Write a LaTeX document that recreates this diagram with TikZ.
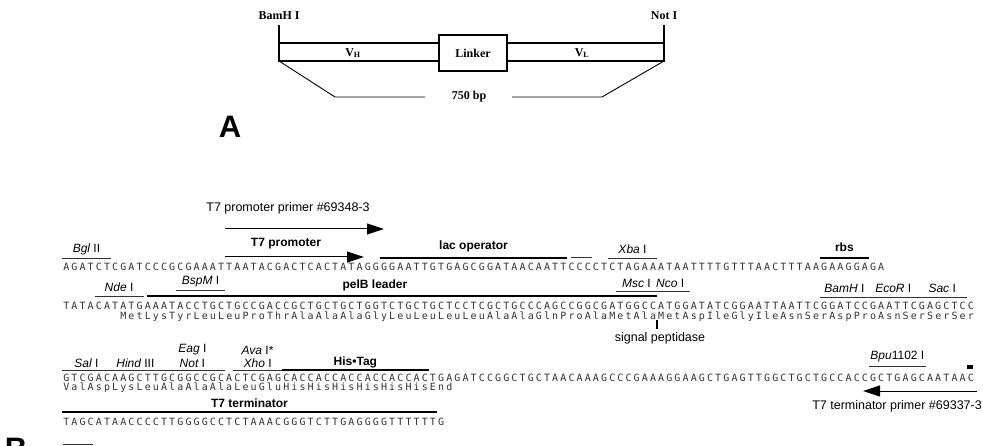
\documentclass[tikz,border=0pt]{standalone}
\usepackage{fontspec}
\setmainfont{Liberation Serif}
\setsansfont{Liberation Sans}
\newfontfamily\seqfont{DejaVu Sans Mono}
\usetikzlibrary{arrows.meta}
\tikzset{
    top label/.style={font=\rmfamily\bfseries\fontsize{12}{12}\selectfont, inner sep=0pt},
    box line/.style={line width=1.4pt},
    thin line/.style={line width=0.9pt},
    linker box/.style={draw, line width=2.4pt, fill=white, minimum width=68pt, minimum height=36pt, font=\rmfamily\bfseries\fontsize{12}{12}\selectfont},
    panel label/.style={font=\sffamily\bfseries\fontsize{31}{31}\selectfont, inner sep=0pt},
    seq/.style={anchor=west, inner sep=0pt, font=\seqfont\fontsize{10}{10}\selectfont, text=black!80},
    site label/.style={font=\sffamily\fontsize{12}{12}\selectfont, inner sep=0pt},
    feature label/.style={font=\sffamily\bfseries\fontsize{12}{12}\selectfont, inner sep=0pt},
    plain label/.style={font=\sffamily\fontsize{12.5}{12.5}\selectfont, inner sep=0pt},
    site line/.style={line width=0.8pt, black!80},
    feature line/.style={line width=2.2pt},
    primer arrow/.style={line width=1pt, -{Triangle[length=17pt, width=11pt]}},
}
\newcommand{\xo}{62}
\newcommand{\cw}{8.15}
% one fixed cell per letter
\newcommand{\seqbox}[1]{\ifx#1\relax\else\makebox[\cw pt]{#1}\expandafter\seqbox\fi}
% name, first base, last base, text, text y, line y
\newcommand{\enzsite}[6]{
    \draw[site line] ({\xo+(#2-1)*\cw},#6) -- ({\xo+#3*\cw},#6);
    \node[site label] (#1) at ({\xo+(#2+#3-1)/2*\cw},#5) {#4};
}
\newcommand{\featbar}[6]{
    \draw[feature line] ({\xo+(#2-1)*\cw},#6) -- ({\xo+#3*\cw},#6);
    \node[feature label] (#1) at ({\xo+(#2+#3-1)/2*\cw},#5) {#4};
}

\begin{document}
\begin{tikzpicture}[x=1pt, y=-1pt]
    \useasboundingbox (0,0) rectangle (983,446);
    % A: the scFv insert
    \coordinate (barNW) at (279,43);
    \coordinate (barSW) at (279,61);
    \coordinate (barNE) at (664,43);
    \coordinate (barSE) at (664,61);
    \node[top label] (bamh) at (279,16) {BamH I};
    \node[top label] (noti) at (664,16) {Not I};
    \draw[box line] (barNW) rectangle (barSE);
    \draw[box line] (barNW) -- ++(0,-18);
    \draw[box line] (barNE) -- ++(0,-18);
    \node[linker box] (linker) at (473,53) {Linker};
    \node[top label] (vh) at (353,53) {V\textsubscript{H}};
    \node[top label] (vl) at (582,53) {V\textsubscript{L}};
    \node[top label] (bp) at (469,97) {750 bp};
    \draw[thin line] (barSW) -- (335,97) -- (425,97);
    \draw[thin line] (barSE) -- (602,97) -- (512,97);
    \node[panel label] (pa) at (230,127) {A};

    % B: cloning region
    \node[plain label] (fwd) at (288,208) {T7 promoter primer \#69348-3};
    \coordinate (fwdS) at (225,229);
    \coordinate (fwdE) at (384,229);
    \draw[primer arrow] (fwdS) -- (fwdE);
    \node[feature label] (t7p) at (286,244) {T7 promoter};
    \coordinate (t7pS) at (225,257);
    \coordinate (t7pE) at (364,257);
    \draw[primer arrow] (t7pS) -- (t7pE);

    \enzsite{bgl}{1}{6}{{\itshape Bgl} II}{249}{258}
    \featbar{lacop}{40}{62}{lac operator}{246}{258}
    \draw[site line] (571,257) -- ({\xo+65*\cw},257);
    \enzsite{xba}{68}{73}{{\itshape Xba} I}{249}{258}
    \featbar{rbs}{94}{99}{rbs}{247}{258}
    \node[seq] (seq1) at (\xo,267) {\seqbox AGATCTCGATCCCGCGAAATTAATACGACTCACTATAGGGGAATTGTGAGCGGATAACAATTCCCCTCTAGAAATAATTTTGTTTAACTTTAAGAAGGAGA\relax};

    \enzsite{nde}{5}{10}{{\itshape Nde} I}{287}{296}
    \enzsite{bspm}{15}{20}{{\itshape BspM} I}{282}{290}
    \draw[feature line] (147,296) -- ({\xo+73*\cw},296);
    \node[feature label] (pelb) at (375,285) {pelB leader};
    \draw[site line] ({\xo+68*\cw},291) -- ({\xo+77*\cw},291);
    \node[site label, anchor=east] (msc) at (651,283) {{\itshape Msc} I};
    \node[site label, anchor=west] (nco) at (656,283) {{\itshape Nco} I};
    \enzsite{bam}{94}{99}{{\itshape BamH} I}{288}{297}
    \enzsite{eco}{100}{105}{{\itshape EcoR} I}{288}{297}
    \enzsite{sac}{106}{111}{{\itshape Sac} I}{288}{297}
    \node[seq] (seq2) at (\xo,306) {\seqbox TATACATATGAAATACCTGCTGCCGACCGCTGCTGCTGGTCTGCTGCTCCTCGCTGCCCAGCCGGCGATGGCCATGGATATCGGAATTAATTCGGATCCGAATTCGAGCTCC\relax};
    \node[seq] (aa2) at ({\xo+7*\cw},317) {\seqbox MetLysTyrLeuLeuProThrAlaAlaAlaGlyLeuLeuLeuLeuAlaAlaGlnProAlaMetAlaMetAspIleGlyIleAsnSerAspProAsnSerSerSer\relax};
    \coordinate (cut) at ({\xo+73*\cw},320);
    \draw[line width=2.4pt] (cut) -- ++(0,9);
    \node[plain label] (sigp) at (660,338) {signal peptidase};

    \enzsite{sal}{1}{6}{{\itshape Sal} I}{363}{370}
    \enzsite{hind}{7}{12}{{\itshape Hind} III}{363}{370}
    \enzsite{not}{13}{20}{{\itshape Not} I}{363}{370}
    \node[site label] (eag) at (not.center |- 0,350) {{\itshape Eag} I};
    \enzsite{xho}{22}{27}{{\itshape Xho} I}{363}{370}
    \node[site label] (ava) at (xho.center |- 0,350) {{\itshape Ava} I*};
    \featbar{his}{28}{45}{His\textbullet Tag}{362}{370}
    \enzsite{bpu}{100}{106}{{\itshape Bpu}1102 I}{357}{366}
    \fill ({\xo+111*\cw},365) rectangle ++(6,4);
    \node[seq] (seq3) at (\xo,378) {\seqbox GTCGACAAGCTTGCGGCCGCACTCGAGCACCACCACCACCACCACTGAGATCCGGCTGCTAACAAAGCCCGAAAGGAAGCTGAGTTGGCTGCTGCCACCGCTGAGCAATAAC\relax};
    \node[seq] (aa3) at (\xo,388) {\seqbox ValAspLysLeuAlaAlaAlaLeuGluHisHisHisHisHisHisEnd\relax};
    \coordinate (revS) at (977,391);
    \coordinate (revE) at (863,391);
    \draw[primer arrow] (revS) -- (revE);
    \node[plain label, anchor=east] (rev) at (982,406) {T7 terminator primer \#69337-3};

    \featbar{t7t}{1}{46}{T7 terminator}{403}{412}
    \node[seq] (seq4) at (\xo,422) {\seqbox TAGCATAACCCCTTGGGGCCTCTAAACGGGTCTTGAGGGGTTTTTTG\relax};
    \draw[site line] (63,444) -- (93,444);
    \node[panel label] (pb) at (16,449) {B};
\end{tikzpicture}
\end{document}
